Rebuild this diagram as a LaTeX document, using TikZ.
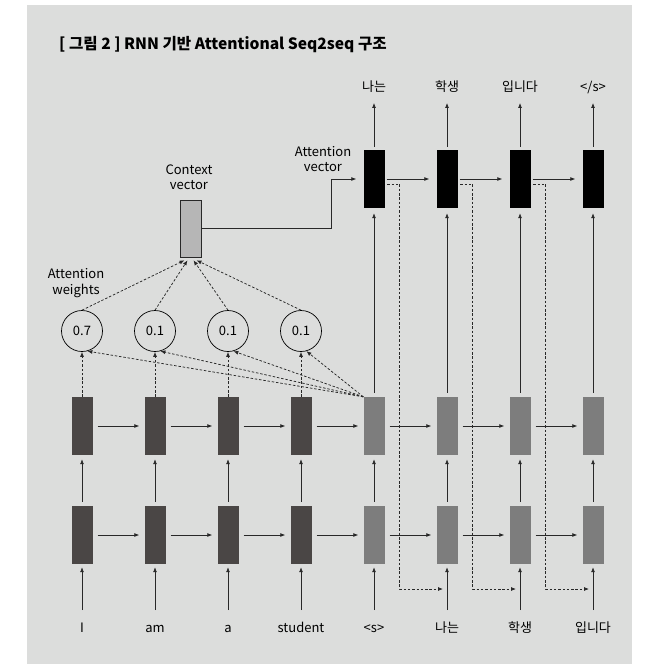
\documentclass[tikz,border=0pt]{standalone}
\usepackage{fontspec}
\setmainfont{Noto Sans CJK KR}
\usetikzlibrary{arrows.meta}
\definecolor{bggray}{RGB}{220,221,220}
\definecolor{encgray}{RGB}{74,70,69}
\definecolor{decgray}{RGB}{125,125,125}
\definecolor{ctxgray}{RGB}{182,182,182}
\definecolor{linegray}{RGB}{40,40,40}

\begin{document}
\begin{tikzpicture}[x=1pt,y=-1pt,font=\fontsize{13}{15}\selectfont,
  cell/.style={minimum width=21pt,minimum height=58pt,inner sep=0pt},
  hid/.style={cell,fill=black},
  wt/.style={circle,draw=black,line width=0.7pt,minimum size=41pt,inner sep=0pt},
  word/.style={inner sep=1pt,text height=9pt,text depth=2.5pt},
  note/.style={align=center,font=\fontsize{13}{15.5}\selectfont},
  arr/.style={draw=linegray,line width=0.75pt,-{Latex[length=5pt,width=4pt]}},
  darr/.style={arr,dash pattern=on 2.5pt off 1.8pt}]
  \useasboundingbox (0,0) rectangle (647,664);
  \fill[bggray] (27,5) rectangle (632,664);
  \node[anchor=west,inner sep=0pt,font=\fontsize{15.6}{18}\selectfont\bfseries] (title) at (59,45) {[ 그림 2 ] RNN 기반 Attentional Seq2seq 구조};

  % two RNN layers, encoder then decoder
  \foreach \k/\w/\c in {0/I/encgray,1/am/encgray,2/a/encgray,3/student/encgray,4/<s>/decgray,5/나는/decgray,6/학생/decgray,7/입니다/decgray} {
    \node[word] (x-\k) at (82+73*\k,629) {\w};
    \node[cell,fill=\c] (b1-\k) at (82+73*\k,535) {};
    \node[cell,fill=\c] (b2-\k) at (82+73*\k,426) {};
    \draw[arr,shorten <=12pt,shorten >=3pt] (x-\k) -- (b1-\k);
    \draw[arr,shorten <=4pt,shorten >=4pt] (b1-\k) -- (b2-\k);
  }
  \foreach \k [evaluate=\k as \n using int(\k+1)] in {0,...,6} {
    \draw[arr,shorten <=5pt,shorten >=5pt] (b1-\k) -- (b1-\n);
    \draw[arr,shorten <=5pt,shorten >=5pt] (b2-\k) -- (b2-\n);
  }

  % attention weights and context vector
  \node[cell,fill=ctxgray,draw=linegray,line width=0.6pt,minimum height=57pt] (ctx) at (190.5,228.5) {};
  \node[note] (ctxlbl) at (189,177) {Context\\vector};
  \node[note] (wtlbl) at (76,283) {Attention\\weights};
  \foreach \k/\v/\dx in {0/0.7/-6,1/0.1/-3,2/0.1/3,3/0.1/6} {
    \node[wt] (w-\k) at (82+73*\k,331) {\v};
    \draw[darr] (b2-\k) -- (w-\k);
    \draw[darr] (b2-4.north west) -- (w-\k.-75);
    \draw[darr] (w-\k.north) -- ([xshift=\dx pt,yshift=-3pt]ctx.south);
  }

  % attention vectors and outputs
  \foreach \j [evaluate=\j as \k using int(\j+4)] in {0,...,3} {
    \node[hid] (h-\j) at (374+73*\j,179) {};
    \draw[arr,shorten <=4pt,shorten >=5pt] (b2-\k) -- (h-\j);
  }
  \node[word] (y-0) at (374,88) {나는};
  \node[word] (y-1) at (447,88) {학생};
  \node[word] (y-2) at (520,88) {입니다};
  \node[word] (y-3) at (593,88) {</s>};
  \foreach \j in {0,...,3} {
    \draw[arr,shorten <=3pt,shorten >=8pt] (h-\j) -- (y-\j);
  }
  \foreach \j [evaluate=\j as \n using int(\j+1)] in {0,...,2} {
    \draw[arr,shorten <=2pt,shorten >=7pt] (h-\j) -- (h-\n);
    \coordinate (fb-\j) at (443+73*\j,589);
    \draw[darr,shorten <=2.5pt] ([yshift=-5pt]h-\j.east) -- ++(15,0) |- (fb-\j);
  }
  \node[note] (avlbl) at (323,159) {Attention\\vector};
  \coordinate (bend) at (331,228.5);
  \draw[arr,shorten >=7pt] (ctx.east) -- (bend) |- (h-0.west);
\end{tikzpicture}
\end{document}
